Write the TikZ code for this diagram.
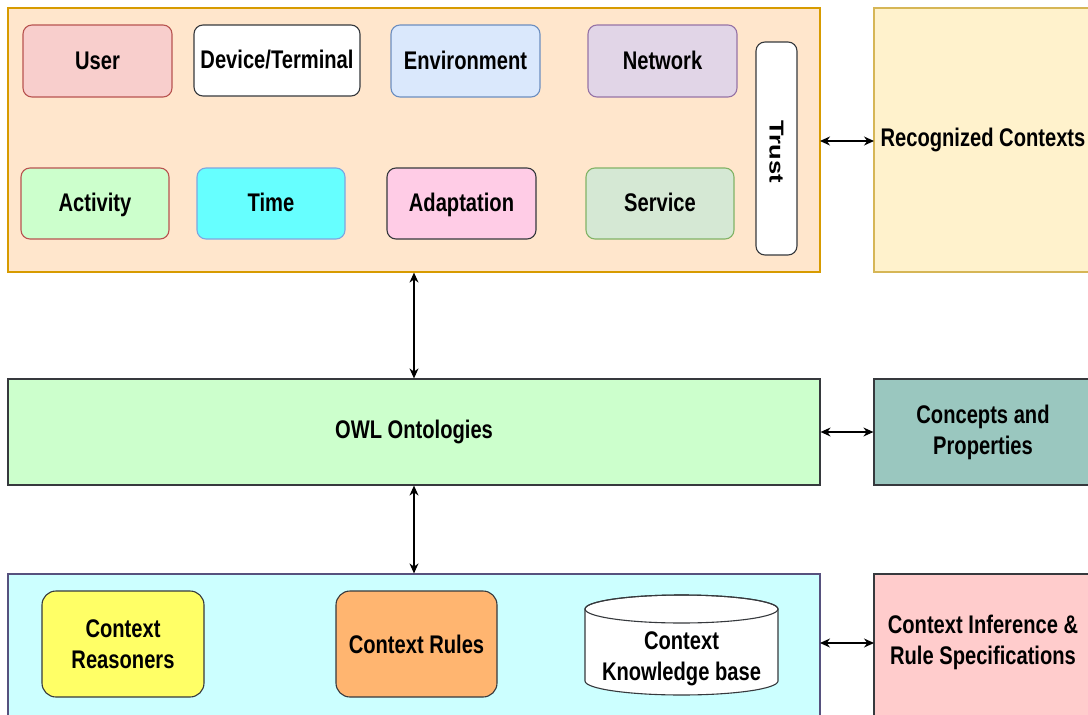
\documentclass[tikz,border=0pt]{standalone}
\usepackage{fontspec}
\setmainfont{Liberation Sans}[FakeStretch=0.79]
\newfontfamily\uprightlbl{Liberation Sans}
\usepackage{xcolor}
\usetikzlibrary{arrows.meta}

\definecolor{peach}{HTML}{FFE6CC}
\definecolor{peachline}{HTML}{D79B00}
\definecolor{cream}{HTML}{FFF2CC}
\definecolor{creamline}{HTML}{D6B656}
\definecolor{userfill}{HTML}{F8CECC}
\definecolor{userline}{HTML}{B85450}
\definecolor{envfill}{HTML}{DAE8FC}
\definecolor{envline}{HTML}{6C8EBF}
\definecolor{netfill}{HTML}{E1D5E7}
\definecolor{netline}{HTML}{9673A6}
\definecolor{actfill}{HTML}{CCFFCC}
\definecolor{timefill}{HTML}{66FFFF}
\definecolor{timeline}{HTML}{7EA6E0}
\definecolor{adaptfill}{HTML}{FFCCE6}
\definecolor{servfill}{HTML}{D5E8D4}
\definecolor{servline}{HTML}{82B366}
\definecolor{owlfill}{HTML}{CCFFCC}
\definecolor{conceptfill}{HTML}{9AC7BF}
\definecolor{basefill}{HTML}{CCFFFF}
\definecolor{baseline}{HTML}{56517E}
\definecolor{infer}{HTML}{FFCCCC}
\definecolor{reasonfill}{HTML}{FFFF66}
\definecolor{rulefill}{HTML}{FFB570}
\definecolor{darkline}{HTML}{36393D}

\newcommand{\lbl}{\fontsize{25.5}{31}\selectfont\bfseries}

\tikzset{
    layer/.style={draw, line width=1.2pt, minimum width=812pt, font=\lbl},
    side/.style={draw, line width=1.2pt, minimum width=218pt, align=center, font=\lbl},
    ctx/.style={draw, rounded corners=9pt, line width=1.1pt, minimum width=149pt,
        minimum height=72pt, text height=18.5pt, text depth=2.5pt, font=\lbl},
    tool/.style={draw=darkline, rounded corners=14pt, line width=1.1pt, minimum width=162pt,
        minimum height=106pt, align=center, font=\lbl},
    link/.style={<->, line width=1.2pt}
}

\begin{document}
\begin{tikzpicture}[x=1pt, y=-1pt, >={Stealth[length=10pt, width=9pt]}]
    \clip (0,0) rectangle (1088,715);
    \fill[white] (0,0) rectangle (1088,715);

    % Context layer and its context types
    \node[layer, draw=peachline, fill=peach, minimum height=264pt] (types) at (414,140) {};
    \node[side, draw=creamline, fill=cream, minimum height=264pt] (recog) at (983,140) {Recognized Contexts};

    \node[ctx, draw=userline, fill=userfill] (user) at (97.5,61) {User};
    \node[ctx, draw=darkline, fill=white, minimum width=166pt, minimum height=71pt] (device) at (277,60.5) {Device/Terminal};
    \node[ctx, draw=envline, fill=envfill] (env) at (465.5,61) {Environment};
    \node[ctx, draw=netline, fill=netfill] (net) at (662.5,61) {Network};

    \node[ctx, draw=userline, fill=actfill, minimum width=148pt, minimum height=71pt] (act) at (95,203.5) {Activity};
    \node[ctx, draw=timeline, fill=timefill, minimum width=148pt, minimum height=71pt] (time) at (271,203.5) {Time};
    \node[ctx, draw=darkline, fill=adaptfill, minimum height=71pt] (adapt) at (461.5,203.5) {Adaptation};
    \node[ctx, draw=servline, fill=servfill, minimum width=148pt, minimum height=71pt] (serv) at (660,203.5) {Service};

    \node[draw=darkline, fill=white, rounded corners=9pt, line width=1.1pt,
        minimum width=41pt, minimum height=213pt] (trust) at (776.5,148.5) {};
    \node[rotate=-90, yscale=0.79, font=\lbl\uprightlbl] (trusttxt) at (776.5,151.5) {Trust};

    % Ontology layer
    \node[layer, draw=darkline, fill=owlfill, minimum height=106pt] (owl) at (414,432) {OWL Ontologies};
    \node[side, draw=darkline, fill=conceptfill, minimum height=106pt] (concepts) at (983,432) {Concepts and\\Properties};

    % Reasoning layer
    \node[layer, draw=baseline, fill=basefill, minimum height=152pt] (reason) at (414,650) {};
    \node[side, draw=darkline, fill=infer, minimum height=152pt] (infer) at (983,650) {};
    \node[align=center, font=\lbl] (infertxt) at (983,642) {Context Inference \&\\Rule Specifications};

    \node[tool, fill=reasonfill] (reasoners) at (123,644) {Context\\Reasoners};
    \node[tool, fill=rulefill, minimum width=161pt] (rules) at (416.5,644) {Context Rules};

    % knowledge base drum
    \draw[darkline, fill=white, line width=1.1pt] (585,609) -- (585,681)
        arc[start angle=180, end angle=360, x radius=96.5pt, y radius=14pt] -- (778,609)
        arc[start angle=0, end angle=180, x radius=96.5pt, y radius=14pt] -- cycle;
    \draw[darkline, line width=1.1pt] (681.5,609) ellipse[x radius=96.5pt, y radius=14pt];
    \node[align=center, font=\lbl] (kb) at (681.5,659) {Context\\Knowledge base};

    % Links between layers
    \coordinate (trustR) at (820,141);
    \coordinate (recogL) at (874,141);
    \draw[link] (trustR) -- (recogL);
    \draw[link] (types.south -| 414,0) -- (owl.north -| 414,0);
    \draw[link] (owl.south -| 414,0) -- (reason.north -| 414,0);
    \draw[link] (owl.east) -- (concepts.west);
    \coordinate (reasonR) at (820,643);
    \coordinate (inferL) at (874,643);
    \draw[link] (reasonR) -- (inferL);

\end{tikzpicture}
\end{document}
